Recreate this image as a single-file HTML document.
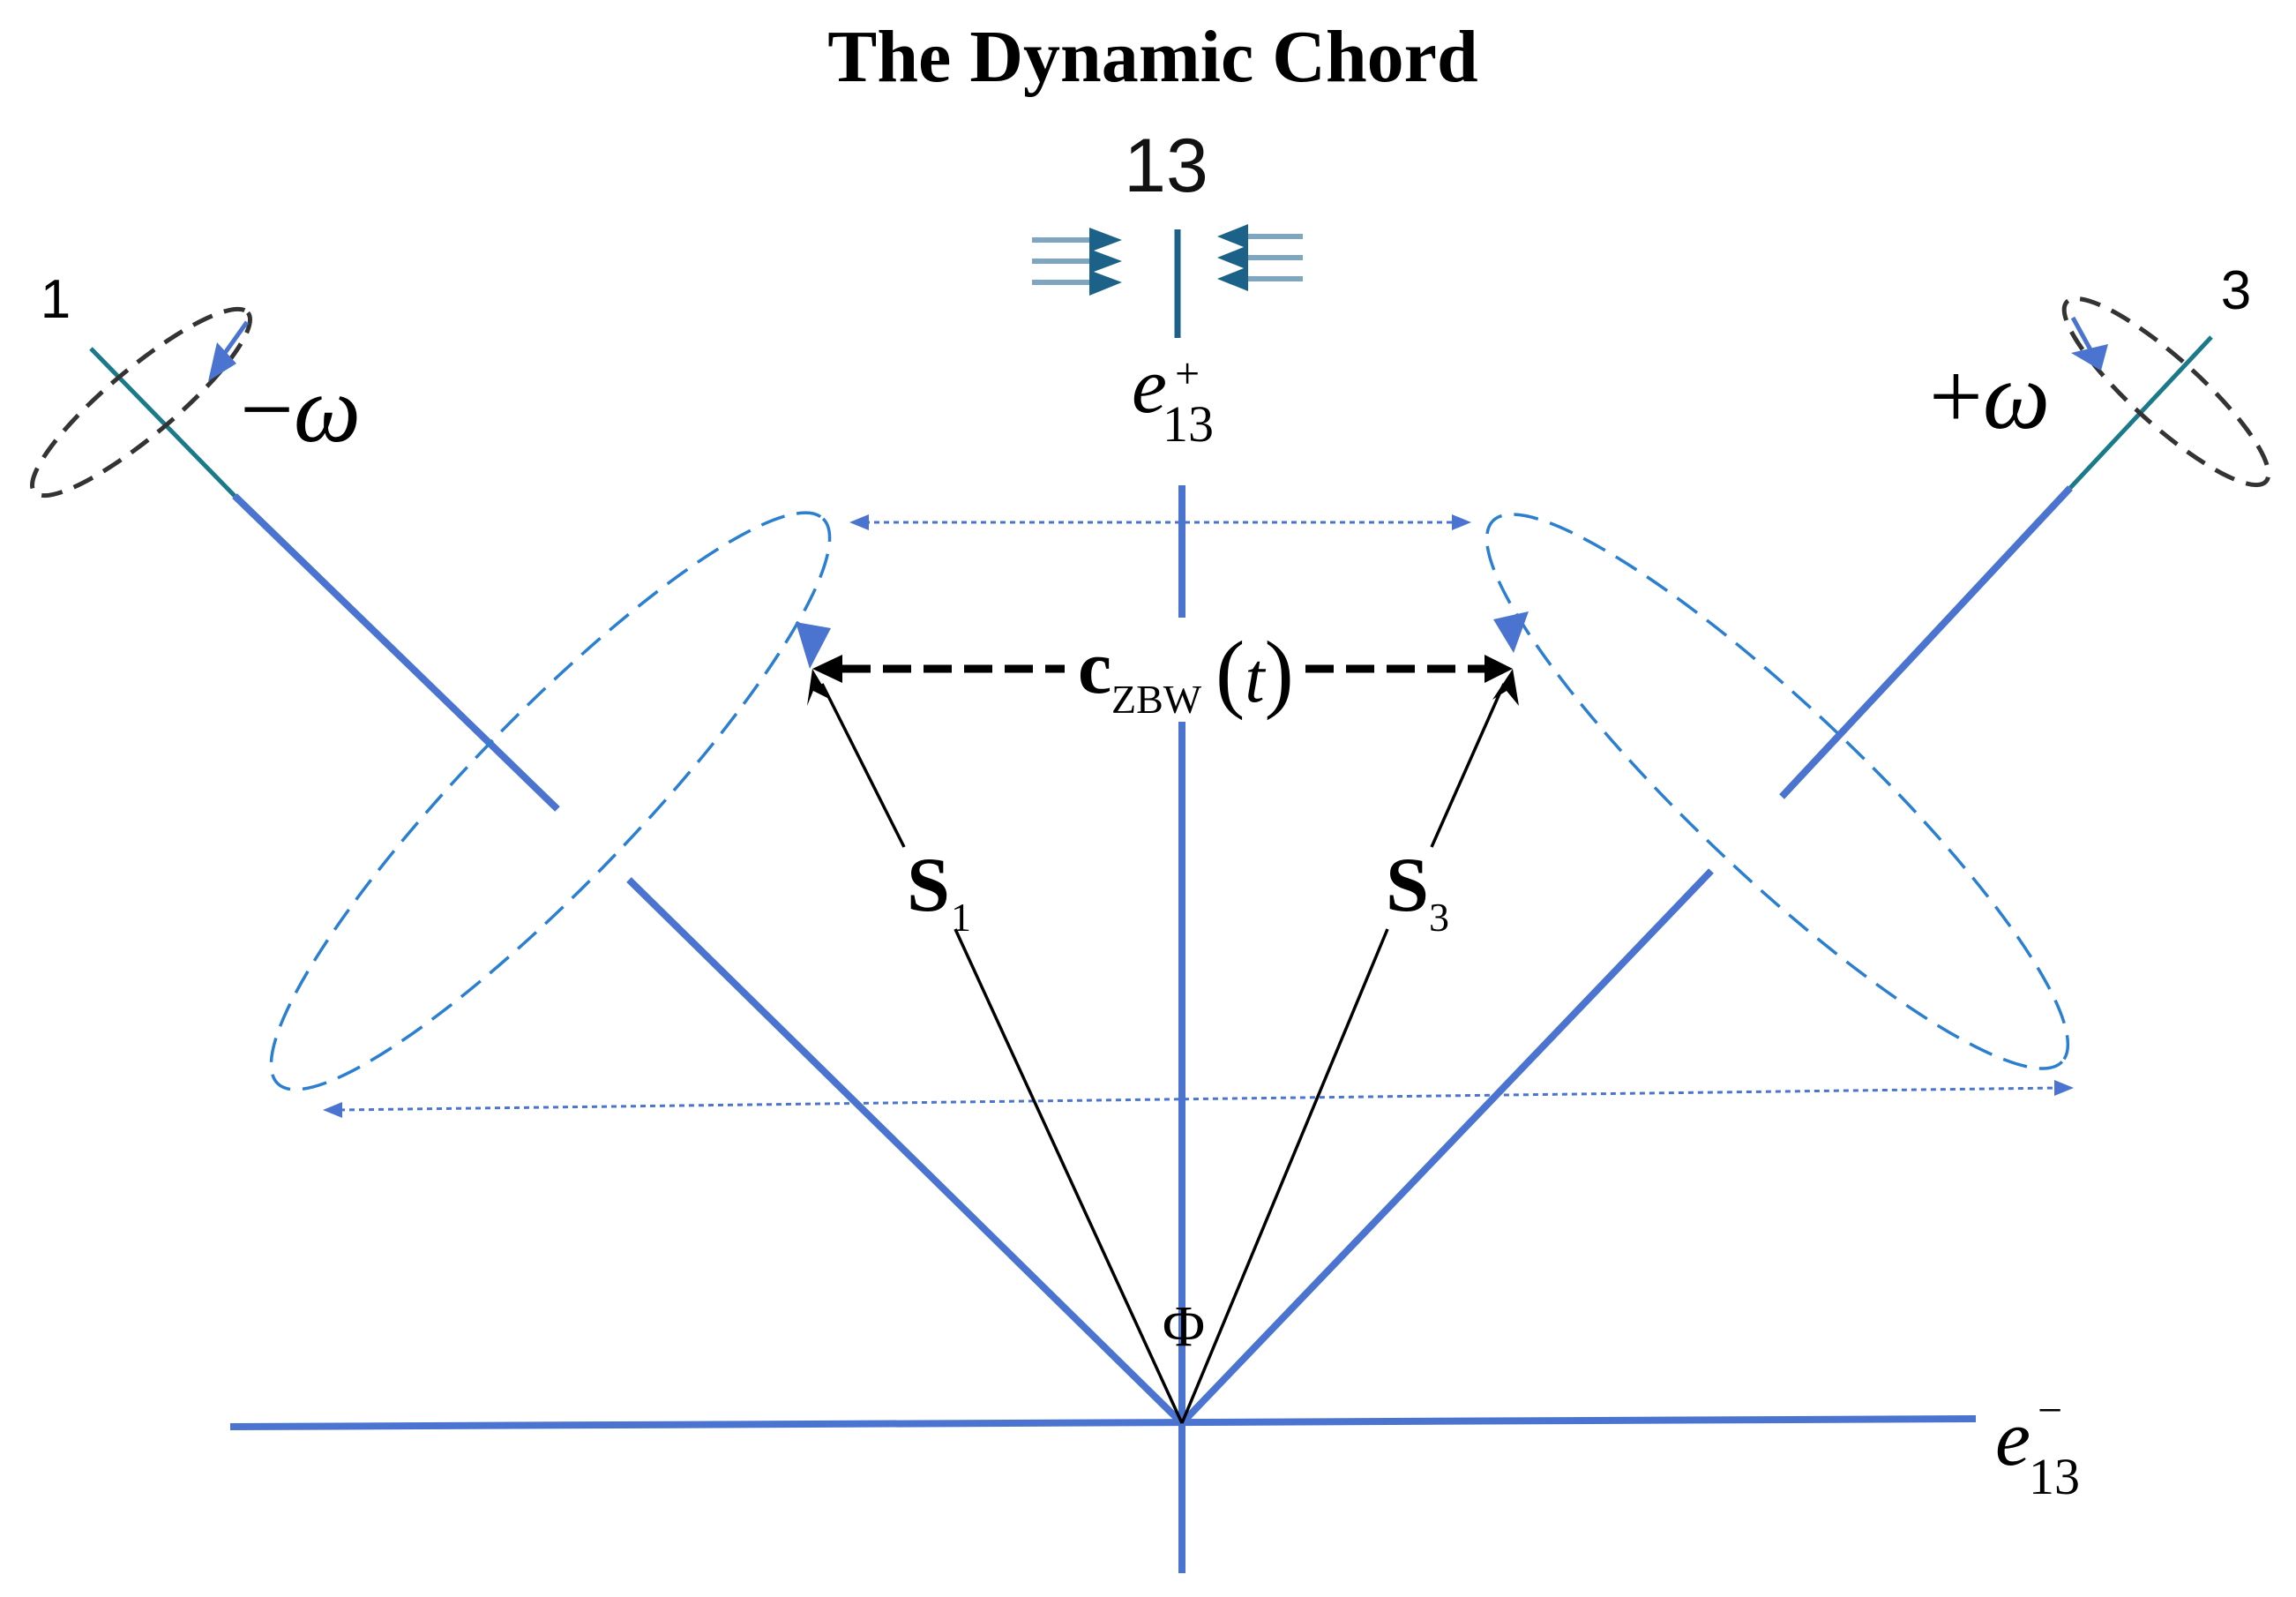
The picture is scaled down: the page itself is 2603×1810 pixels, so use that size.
<!DOCTYPE html>
<html><head><meta charset="utf-8"><style>
html,body{margin:0;padding:0;background:#fff;}
svg{display:block;}
</style></head><body>
<svg width="2603" height="1810" viewBox="0 0 2603 1810" xmlns="http://www.w3.org/2000/svg">
<text x="1307" y="92" font-family="Liberation Serif, serif" font-weight="bold" font-size="84" text-anchor="middle">The Dynamic Chord</text>
<text x="1322" y="217" font-family="Liberation Sans, sans-serif" font-size="86" text-anchor="middle" fill="#111">13</text>
<g stroke="#7fa6c0" stroke-width="6">
<line x1="1170" y1="272" x2="1240" y2="272"/><line x1="1170" y1="296" x2="1240" y2="296"/><line x1="1170" y1="320" x2="1240" y2="320"/>
<line x1="1410" y1="268" x2="1477" y2="268"/><line x1="1410" y1="292" x2="1477" y2="292"/><line x1="1410" y1="316" x2="1477" y2="316"/>
</g>
<g fill="#1c6288">
<path d="M1235,258 L1272,272 L1240,284 L1272,296 L1240,308 L1272,320 L1235,335 z"/>
<path d="M1415,254 L1380,268 L1410,280 L1380,292 L1410,304 L1380,316 L1415,330 z"/>
</g>
<line x1="1335" y1="260" x2="1335" y2="383" stroke="#1c6288" stroke-width="7"/>
<text x="1283" y="467" font-family="Liberation Serif, serif" font-style="italic" font-size="90">e</text>
<text x="1318" y="500" font-family="Liberation Serif, serif" font-size="58">13</text>
<text x="1332" y="440" font-family="Liberation Serif, serif" font-size="50">+</text>
<g stroke="#4a74d0" stroke-width="8" fill="none">
<line x1="1340" y1="550" x2="1340" y2="700"/>
<line x1="1340" y1="818" x2="1340" y2="1783"/>
<line x1="261" y1="1617" x2="2240" y2="1608"/>
<line x1="1340" y1="1613" x2="713" y2="997"/>
<line x1="632" y1="917" x2="266" y2="562"/>
<line x1="1340" y1="1613" x2="1940" y2="987"/>
<line x1="2020" y1="903" x2="2347" y2="553"/>
</g>
<g stroke="#1a7a8a" stroke-width="5">
<line x1="266" y1="562" x2="103" y2="395"/>
<line x1="2347" y1="553" x2="2507" y2="382"/>
</g>
<text x="2262" y="1660" font-family="Liberation Serif, serif" font-style="italic" font-size="90">e</text>
<text x="2300" y="1693" font-family="Liberation Serif, serif" font-size="58">13</text>
<text x="2310" y="1615" font-family="Liberation Serif, serif" font-size="50">−</text>
<ellipse cx="160" cy="456" rx="158" ry="38" transform="rotate(-40 160 456)" fill="none" stroke="#333" stroke-width="5" stroke-dasharray="24 14"/>
<ellipse cx="2456" cy="444" rx="152" ry="38" transform="rotate(42 2456 444)" fill="none" stroke="#333" stroke-width="5" stroke-dasharray="24 14"/>
<path d="M268,412 L236,432 L246,388 z" fill="#4a74d0"/>
<line x1="280" y1="365" x2="255" y2="400" stroke="#4a74d0" stroke-width="5"/>
<path d="M2382,420 L2348,400 L2390,390 z" fill="#4a74d0"/>
<line x1="2350" y1="360" x2="2372" y2="400" stroke="#4a74d0" stroke-width="5"/>
<text x="63" y="360" font-family="Liberation Sans, sans-serif" font-size="62" text-anchor="middle">1</text>
<text x="2535" y="350" font-family="Liberation Sans, sans-serif" font-size="62" text-anchor="middle">3</text>
<text x="272" y="500" font-family="Liberation Serif, serif" font-size="108">−<tspan font-style="italic">ω</tspan></text>
<text x="2187" y="485" font-family="Liberation Serif, serif" font-size="108">+<tspan font-style="italic">ω</tspan></text>
<ellipse cx="624" cy="908" rx="445" ry="95" transform="rotate(-46 624 908)" fill="none" stroke="#2a7fd0" stroke-width="3.5" stroke-dasharray="28 14"/>
<ellipse cx="2015" cy="897" rx="445" ry="95" transform="rotate(43.5 2015 897)" fill="none" stroke="#2a7fd0" stroke-width="3.5" stroke-dasharray="28 14"/>
<polyline points="925,730 895,790 860,835 812,885" fill="none" stroke="#fff" stroke-width="14"/>
<polyline points="1712,722 1745,780 1780,825 1815,868" fill="none" stroke="#fff" stroke-width="14"/>
<path d="M902,705 L942,712 L918,758 z" fill="#4a74d0"/>
<path d="M1693,702 L1733,693 L1716,740 z" fill="#4a74d0"/>
<line x1="980" y1="592" x2="1650" y2="592" stroke="#4a74d0" stroke-width="3" stroke-dasharray="6 5"/>
<path d="M963,592 L985,583 L985,601 z" fill="#4a74d0"/><path d="M1668,592 L1646,583 L1646,601 z" fill="#4a74d0"/>
<line x1="385" y1="1258" x2="2333" y2="1233" stroke="#4a74d0" stroke-width="3" stroke-dasharray="6 5"/>
<path d="M366,1258 L388,1249 L388,1267 z" fill="#4a74d0"/><path d="M2351,1233 L2329,1224 L2329,1242 z" fill="#4a74d0"/>
<g stroke="#000" stroke-width="3.5">
<line x1="1340" y1="1613" x2="1083" y2="1053"/>
<line x1="1025" y1="960" x2="932" y2="775"/>
<line x1="1340" y1="1613" x2="1573" y2="1053"/>
<line x1="1623" y1="960" x2="1705" y2="775"/>
</g>
<path d="M921,758 L942,793 L922,783 L915,800 z" fill="#000"/>
<path d="M1715,758 L1722,800 L1708,783 L1692,793 z" fill="#000"/>
<g stroke="#000" stroke-width="9" stroke-dasharray="32 14">
<line x1="955" y1="758" x2="1207" y2="758"/>
<line x1="1480" y1="758" x2="1688" y2="758"/>
</g>
<path d="M921,758 L955,742 L955,774 z" fill="#000"/>
<path d="M1715,758 L1683,742 L1683,774 z" fill="#000"/>
<text x="1222" y="785" font-family="Liberation Serif, serif" font-weight="bold" font-size="86">c</text>
<text x="1260" y="808" font-family="Liberation Serif, serif" font-size="46">ZBW</text>
<text x="1378" y="795" font-family="Liberation Serif, serif" font-size="100">(<tspan font-style="italic" font-size="80">t</tspan>)</text>
<text x="1028" y="1032" font-family="Liberation Serif, serif" font-weight="bold" font-size="88">S</text>
<text x="1078" y="1055" font-family="Liberation Serif, serif" font-size="46">1</text>
<text x="1571" y="1032" font-family="Liberation Serif, serif" font-weight="bold" font-size="88">S</text>
<text x="1620" y="1055" font-family="Liberation Serif, serif" font-size="46">3</text>
<text x="1342" y="1525" font-family="Liberation Serif, serif" font-size="66" text-anchor="middle">Φ</text>
</svg>
</body></html>
